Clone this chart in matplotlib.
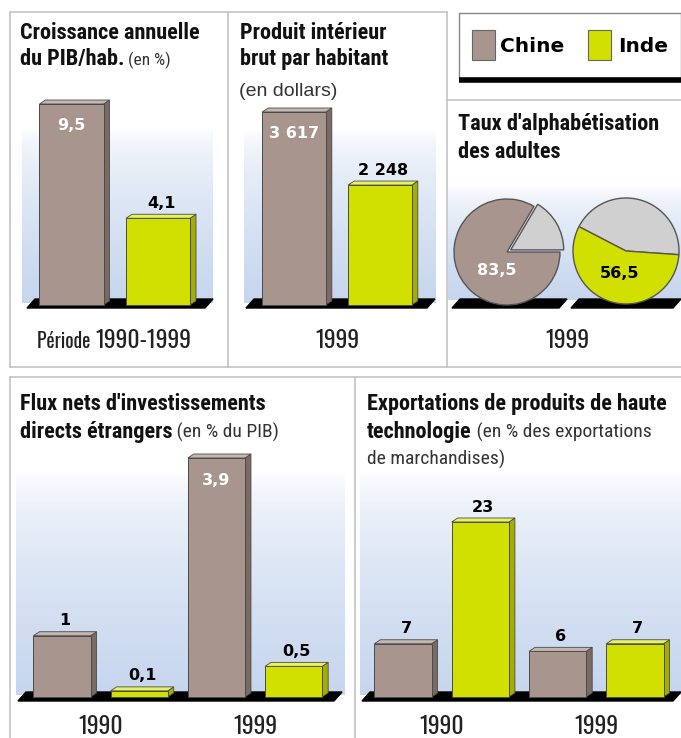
import numpy as np
import matplotlib
matplotlib.use('Agg')
import matplotlib.pyplot as plt
from matplotlib.patches import Polygon, Rectangle
from matplotlib.colors import LinearSegmentedColormap
from matplotlib.transforms import blended_transform_factory

# Données
pays = ['Chine', 'Inde']
croissance_pib = [9.5, 4.1]          # % par an, 1990-1999
pib_habitant = [3617, 2248]          # dollars, 1999
alphabetisation = [83.5, 56.5]       # % des adultes, 1999
annees = ['1990', '1999']
ide_1990 = [1, 0.1]                  # % du PIB (Chine, Inde)
ide_1999 = [3.9, 0.5]
hitech_1990 = [7, 23]                # % des exportations de marchandises
hitech_1999 = [6, 7]

# Couleurs
C_CHINE = '#a8968e'
C_INDE = '#d2e000'
SIDE = {C_CHINE: '#7a6a64', C_INDE: '#a3ae00'}
TOP = {C_CHINE: '#c4b6b0', C_INDE: '#e8f260'}
BLEU = '#c6d6ee'
BORD = '#c4c4c4'

NARROW = ['Roboto Condensed', 'DejaVu Sans']
GOTHIC = ['Oswald', 'Roboto Condensed', 'DejaVu Sans']
TITRE = dict(family=NARROW, weight=900, size=16, color='#111111')
SOUS = dict(family=NARROW, size=14, color='#333333')
ANNEE = dict(family=GOTHIC, size=17, color='#222222')
VAL = dict(family='DejaVu Sans', weight='bold', size=11.5)

W, H = 681, 738
fig = plt.figure(figsize=(W / 100, H / 100), dpi=100)
bg = fig.add_axes([0, 0, 1, 1])
bg.set_xlim(0, W)
bg.set_ylim(H, 0)
bg.axis('off')
rend = fig.canvas.get_renderer()


def px_axes(x0, y0, x1, y1):
    ax = fig.add_axes([x0 / W, 1 - y1 / H, (x1 - x0) / W, (y1 - y0) / H])
    ax.axis('off')
    return ax


def fmt(v):
    if v >= 1000:
        return f'{int(v):,}'.replace(',', ' ')
    if float(v).is_integer():
        return str(int(v))
    return f'{v:.1f}'.replace('.', ',')


def rich(x, y, parts):
    # texte sur une ligne, plusieurs styles à la suite
    for s, kw in parts:
        t = bg.text(x, y, s, ha='left', va='baseline', **kw)
        bb = t.get_window_extent(rend)
        x = bg.transData.inverted().transform((bb.x1, bb.y0))[0]


def degrade(x0, x1, y0, y1):
    cmap = LinearSegmentedColormap.from_list('g', ['white', BLEU])
    g = np.linspace(0, 1, 200) ** 0.6
    bg.imshow(g.reshape(-1, 1), cmap=cmap, aspect='auto', origin='upper',
              extent=[x0, x1, y1, y0], zorder=0, vmin=0, vmax=1)


def sol(x0, x1, base):
    bg.add_patch(Polygon([(x0, base + 3), (x0 + 8, base - 6), (x1, base - 6), (x1 - 8, base + 3)],
                         closed=True, color='black', zorder=1))


def barres(values, colors, c0, step, base, k, x0, x1, inside):
    ax = px_axes(x0, base - 300, x1, base + 10)
    ax.set_xlim((x0 - c0) / step, (x1 - c0) / step)
    ax.set_ylim(-10 / k, 300 / k)
    pos = np.arange(len(values))
    w = 0.74
    dx, dy = 6 / step, 4 / k
    ax.bar(pos, values, w, color=colors, edgecolor='#4a4a4a', linewidth=0.7, zorder=3)
    for p, v, c, ins in zip(pos, values, colors, inside):
        l, r = p - w / 2, p + w / 2
        ax.add_patch(Polygon([(r, 0), (r + dx, dy), (r + dx, v + dy), (r, v)],
                             closed=True, facecolor=SIDE[c], edgecolor='#4a4a4a', lw=0.6, zorder=2))
        ax.add_patch(Polygon([(l, v), (l + dx, v + dy), (r + dx, v + dy), (r, v)],
                             closed=True, facecolor=TOP[c], edgecolor='#4a4a4a', lw=0.6, zorder=4))
        if ins:
            ax.text(p, v - 22 / k, fmt(v), ha='center', va='center', color='white', zorder=5, **VAL)
        else:
            ax.text(p + dx / 2, v + 15 / k, fmt(v), ha='center', va='center', color='black', zorder=5, **VAL)
    return ax


# Cadres
for seg in [((10, 10), (12, 367)), ((10, 447), (12, 12)), ((10, 681), (367, 367)),
            ((228, 228), (12, 367)), ((447, 447), (12, 367)), ((447, 681), (100, 100)),
            ((10, 681), (377, 377)), ((10, 10), (377, 738)), ((355, 355), (377, 738))]:
    bg.plot(seg[0], seg[1], color=BORD, lw=1.2, zorder=0.5)

# Dégradés de fond
degrade(22, 213, 128, 303)
degrade(244, 436, 130, 303)
degrade(448, 681, 186, 300)
degrade(16, 345, 473, 695)
degrade(360, 681, 473, 695)

# Sols noirs
sol(27, 213, 305)
sol(246, 435, 305)
sol(452, 567, 305)
sol(571, 681, 305)
sol(18, 342, 698)
sol(362, 681, 698)

# Légende
bg.add_patch(Rectangle((459, 13), 222, 65, facecolor='white', edgecolor='#888888', lw=1, zorder=1))
bg.plot([459, 681], [80, 80], color='black', lw=4, zorder=2, solid_capstyle='butt')
bg.add_patch(Rectangle((472, 30), 23, 30, facecolor=C_CHINE, edgecolor='#666666', lw=0.8, zorder=2))
bg.add_patch(Rectangle((588, 30), 23, 30, facecolor=C_INDE, edgecolor='#666666', lw=0.8, zorder=2))
bg.text(500, 52, pays[0], ha='left', va='baseline', family='DejaVu Sans', weight='bold', size=14.5)
bg.text(618, 52, pays[1], ha='left', va='baseline', family='DejaVu Sans', weight='bold', size=14.5)

# 1. Croissance annuelle du PIB/hab.
rich(20, 39, [('Croissance annuelle', TITRE)])
rich(20, 65, [('du PIB/hab.', TITRE), (' (en %)', dict(SOUS, size=12.5))])
barres(croissance_pib, [C_CHINE, C_INDE], 71.5, 86.5, 305, 201 / 9.5, 27, 213, [True, False])
rich(37, 348, [('Période ', dict(ANNEE, size=14)), ('1990-1999', ANNEE)])

# 2. PIB par habitant
rich(240, 39, [('Produit intérieur', TITRE)])
rich(240, 65, [('brut par habitant', TITRE)])
bg.text(239, 96, '(en dollars)', ha='left', va='baseline', family='Liberation Sans', size=14, color='#333333')
barres(pib_habitant, [C_CHINE, C_INDE], 294, 86, 305, 193 / 3617, 246, 435, [True, False])
bg.text(337, 348, '1999', ha='center', va='baseline', **ANNEE)

# 3. Taux d'alphabétisation
rich(458, 130, [("Taux d'alphabétisation", TITRE)])
rich(458, 158, [('des adultes', TITRE)])
axp = px_axes(447, 190, 681, 318)
r = 53
centres = [(0, 0), ((626 - 507) / r, (252 - 251) / r)]
explode = [[0.08, 0], [0, 0]]
starts = [0, -4]
for i, (v, c) in enumerate(zip(alphabetisation, [C_CHINE, C_INDE])):
    axp.pie([100 - v, v], colors=['#d0d0d0', c], center=centres[i], radius=1,
            startangle=starts[i], counterclock=True, explode=explode[i],
            wedgeprops=dict(edgecolor='#555555', linewidth=1.0))
axp.text(centres[0][0] - 0.2, centres[0][1] - 0.35, fmt(alphabetisation[0]), ha='center', va='center',
         color='white', **VAL)
axp.text(centres[1][0] - 0.12, centres[1][1] - 0.42, fmt(alphabetisation[1]), ha='center', va='center',
         color='black', **VAL)
axp.set_xlim((447 - 507) / r, (681 - 507) / r)
axp.set_ylim((252 - 318) / r, (252 - 190) / r)
axp.set_aspect('auto')
axp.axis('off')
bg.text(567, 348, '1999', ha='center', va='baseline', **ANNEE)

# 4. Flux nets d'investissements directs étrangers
rich(20, 410, [("Flux nets d'investissements", TITRE)])
rich(20, 438, [('directs étrangers', TITRE), (' (en % du PIB)', SOUS)])
ide = ide_1990 + ide_1999
cols4 = [C_CHINE, C_INDE] * 2
ax4 = barres(ide, cols4, 62, 77.2, 697, 239 / 3.9, 18, 342, [v > 2 for v in ide])
tr4 = blended_transform_factory(ax4.transData, bg.transData)
for j, a in enumerate(annees):
    ax4.text(2 * j + 0.5, 734, a, transform=tr4, ha='center', va='baseline', **ANNEE)

# 5. Exportations de produits de haute technologie
rich(367, 410, [('Exportations de produits de haute', TITRE)])
rich(367, 438, [('technologie', TITRE), (' (en % des exportations', SOUS)])
rich(367, 465, [('de marchandises)', SOUS)])
hitech = hitech_1990 + hitech_1999
ax5 = barres(hitech, cols4, 403, 77.3, 697, 175 / 23, 362, 681, [False] * 4)
tr5 = blended_transform_factory(ax5.transData, bg.transData)
for j, a in enumerate(annees):
    ax5.text(2 * j + 0.5, 734, a, transform=tr5, ha='center', va='baseline', **ANNEE)

fig.savefig('out.png', dpi=100)
